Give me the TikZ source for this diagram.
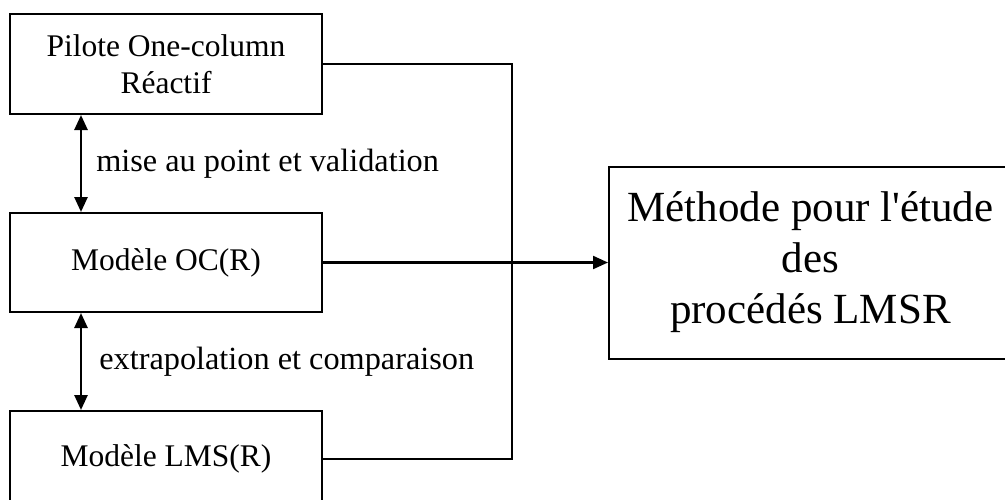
\documentclass[tikz,border=0pt]{standalone}
\usepackage{fontspec}
\setmainfont{Liberation Serif}
\usetikzlibrary{positioning,arrows.meta,calc}

\begin{document}
\begin{tikzpicture}[x=1pt, y=-1pt,
  box/.style={draw, line width=2pt, minimum width=312pt, minimum height=99pt, inner sep=0pt, align=center, font=\fontsize{31.5}{37}\selectfont},
  bigbox/.style={box, minimum width=403pt, minimum height=192pt, font=\fontsize{43}{51}\selectfont},
  lab/.style={font=\fontsize{32.3}{37}\selectfont, inner sep=0pt},
  conn/.style={line width=2.2pt},
  arr/.style={conn, -{Triangle[length=15pt, width=13pt]}},
  dbl/.style={line width=2.6pt, {Triangle[length=15pt, width=13pt]}-{Triangle[length=15pt, width=13pt]}}]
\useasboundingbox (0,0) rectangle (1005,499);
\clip (0,0) rectangle (1005,499);
\node[box, minimum height=100pt] (pilote) at (166,64) {Pilote One-column\\R\'eactif};
\node[box, below=97pt of pilote] (ocr) {Mod\`ele OC(R)};
\node[box, below=97pt of ocr, minimum height=96pt] (lms) {Mod\`ele LMS(R)};
\node[bigbox, right=285pt of ocr] (methode) {M\'ethode pour l\textquotesingle\'etude\\des\\proc\'ed\'es LMSR};
\coordinate (bus) at (512,0);
\draw[conn] (pilote.east) -| (bus |- lms.east) -- (lms.east);
\draw[arr] (ocr.east) -- (methode.west);
\draw[dbl] ([xshift=72pt]pilote.south west) -- node[lab, right=14pt] (valid) {mise au point et validation} ([xshift=72pt]ocr.north west);
\draw[dbl] ([xshift=72pt]ocr.south west) -- node[lab, right=17pt] (extra) {extrapolation et comparaison} ([xshift=72pt]lms.north west);
\end{tikzpicture}
\end{document}
